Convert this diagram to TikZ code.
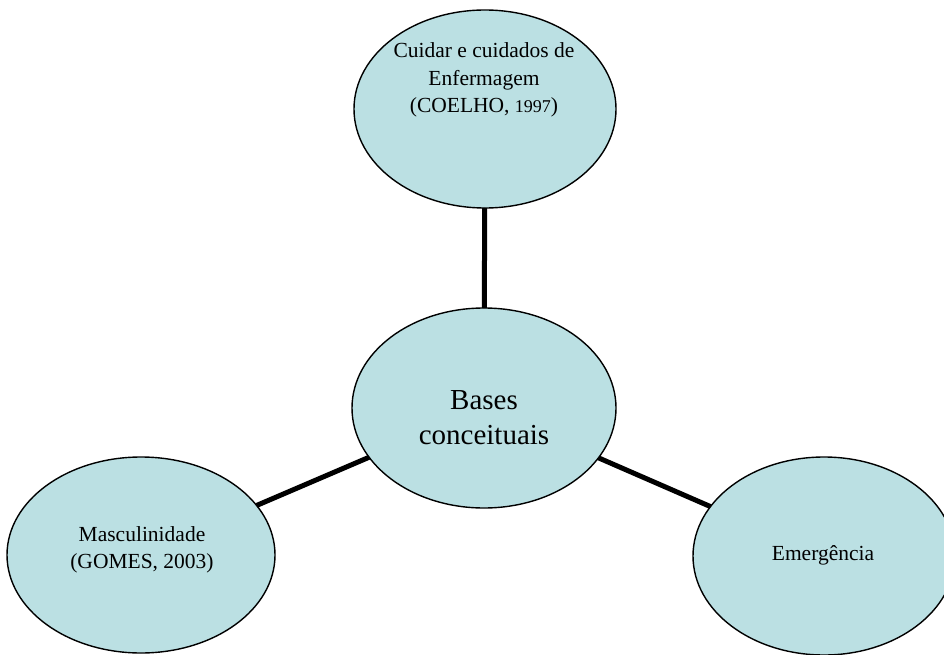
\documentclass[tikz,border=0pt]{standalone}
\usepackage{fontspec}
\setmainfont{Liberation Serif}
\usetikzlibrary{shapes.geometric}
\definecolor{bubble}{RGB}{187,224,227}
\begin{document}
\begin{tikzpicture}[x=1pt,y=-1pt,
  bub/.style={ellipse,draw=black,line width=1.4pt,fill=bubble,inner sep=0pt,outer sep=0pt},
  lbl/.style={align=center,inner sep=0pt,font=\fontsize{21.5}{27.5}\selectfont},
  bigl/.style={align=center,inner sep=0pt,font=\fontsize{29}{35}\selectfont},
  conn/.style={line width=5pt,draw=black}]
\useasboundingbox (0,0) rectangle (944,655);
\node[bub,minimum width=262pt,minimum height=198pt] (top) at (485,109) {};
\node[bub,minimum width=264pt,minimum height=200pt] (mid) at (484,408) {};
\node[bub,minimum width=268pt,minimum height=196pt] (left) at (141,555) {};
\node[bub,minimum width=262pt,minimum height=198pt] (right) at (824,556) {};
\draw[conn] (top) -- (mid);
\draw[conn] (mid) -- (left);
\draw[conn] (mid) -- (right);
\node[lbl] (ttop) at (484,80) {Cuidar e cuidados de\\Enfermagem\\(COELHO, {\fontsize{18}{27.5}\selectfont 1997})};
\node[bigl] (tmid) at (484,418) {Bases\\conceituais};
\node[lbl] (tleft) at (142,550) {Masculinidade\\(GOMES, 2003)};
\node[lbl] (tright) at (823,555) {Emergência};
\end{tikzpicture}
\end{document}
